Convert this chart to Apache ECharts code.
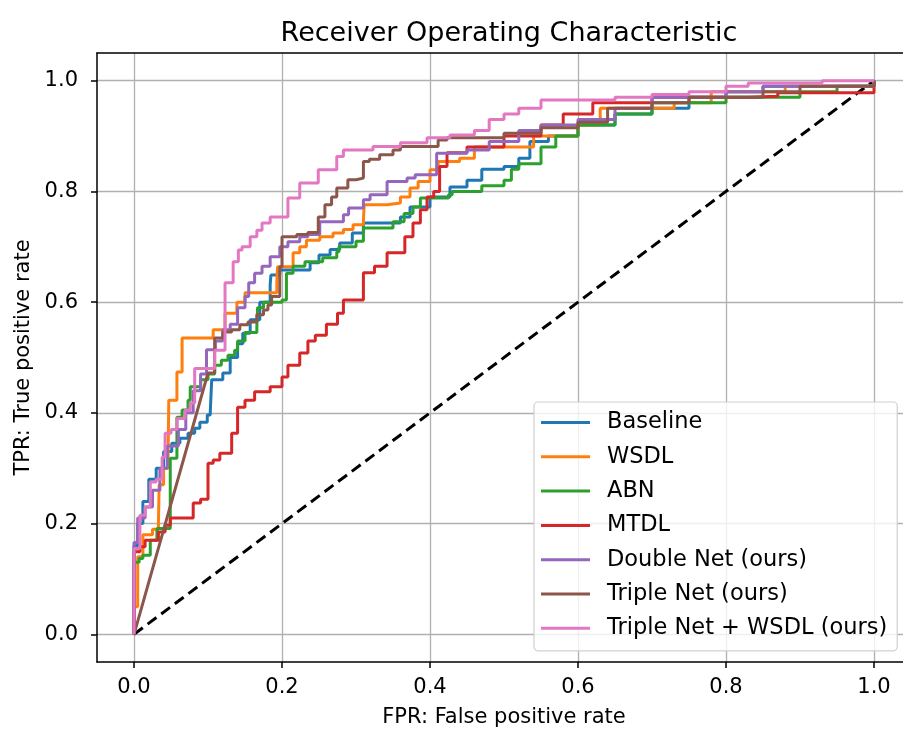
<!DOCTYPE html>
<html><head><meta charset="utf-8">
<script src="https://cdn.jsdelivr.net/npm/echarts@6/dist/echarts.min.js"></script>
<style>html,body{margin:0;padding:0;background:#fff}#c{width:903px;height:732px}</style>
</head><body><div id="c"></div>
<script>
const titleText = 'Receiver Operating Characteristic';
const xName = 'FPR: False positive rate';
const yName = 'TPR: True positive rate';
const seriesNames = ['Baseline','WSDL','ABN','MTDL','Double Net (ours)','Triple Net (ours)','Triple Net + WSDL (ours)'];
const colors = ['#1f77b4','#ff7f0e','#2ca02c','#d62728','#9467bd','#8c564b','#e377c2'];
const tickValues = [0, 0.2, 0.4, 0.6, 0.8, 1.0];

// step points: [fpr where TPR jumps, TPR after the jump]
const baseline = [[0,0],[0,0.16],[0.005,0.2],[0.012,0.24],[0.02,0.28],[0.03,0.3],[0.04,0.33],[0.051,0.345],[0.062,0.354],[0.073,0.363],[0.082,0.372],[0.089,0.383],[0.099,0.396],[0.103,0.40],[0.105,0.46],[0.12,0.472],[0.13,0.5],[0.14,0.525],[0.147,0.544],[0.157,0.568],[0.17,0.6],[0.184,0.631],[0.185,0.649],[0.197,0.658],[0.238,0.671],[0.25,0.685],[0.265,0.695],[0.278,0.707],[0.295,0.725],[0.31,0.743],[0.36,0.754],[0.373,0.772],[0.40,0.79],[0.427,0.808],[0.45,0.82],[0.47,0.84],[0.5,0.845],[0.52,0.86],[0.535,0.89],[0.56,0.9],[0.6,0.92],[0.65,0.94],[0.7,0.95],[0.75,0.97],[0.8,0.98],[0.85,0.99],[1,1]];
const wsdl = [[0,0],[0,0.05],[0.005,0.14],[0.012,0.18],[0.025,0.19],[0.033,0.2],[0.034,0.27],[0.04,0.3],[0.046,0.32],[0.047,0.423],[0.058,0.474],[0.065,0.535],[0.107,0.55],[0.123,0.58],[0.139,0.6],[0.15,0.617],[0.193,0.635],[0.194,0.664],[0.215,0.689],[0.224,0.7],[0.233,0.712],[0.251,0.718],[0.269,0.725],[0.283,0.731],[0.296,0.74],[0.31,0.745],[0.311,0.776],[0.342,0.779],[0.36,0.79],[0.373,0.806],[0.384,0.818],[0.4,0.839],[0.411,0.854],[0.44,0.86],[0.46,0.88],[0.54,0.9],[0.6,0.92],[0.63,0.95],[0.73,0.96],[0.78,0.98],[0.88,0.99],[1,1]];
const abn = [[0,0],[0,0.13],[0.007,0.137],[0.012,0.143],[0.022,0.17],[0.031,0.191],[0.049,0.318],[0.058,0.392],[0.065,0.405],[0.073,0.423],[0.076,0.447],[0.09,0.46],[0.1,0.47],[0.109,0.486],[0.118,0.495],[0.127,0.504],[0.136,0.513],[0.14,0.53],[0.15,0.545],[0.166,0.556],[0.167,0.59],[0.175,0.6],[0.2,0.604],[0.206,0.652],[0.215,0.665],[0.231,0.673],[0.255,0.68],[0.274,0.691],[0.277,0.7],[0.3,0.71],[0.31,0.734],[0.35,0.745],[0.365,0.76],[0.377,0.772],[0.387,0.788],[0.425,0.794],[0.43,0.8],[0.47,0.81],[0.5,0.82],[0.51,0.84],[0.52,0.85],[0.55,0.88],[0.57,0.9],[0.6,0.92],[0.65,0.94],[0.7,0.96],[0.8,0.97],[0.9,0.98],[0.95,0.99],[1,1]];
const mtdl = [[0,0],[0,0.149],[0.008,0.158],[0.015,0.17],[0.033,0.185],[0.042,0.197],[0.049,0.21],[0.08,0.237],[0.09,0.244],[0.1,0.309],[0.107,0.315],[0.116,0.327],[0.132,0.363],[0.14,0.41],[0.15,0.423],[0.163,0.438],[0.184,0.447],[0.2,0.465],[0.208,0.486],[0.224,0.508],[0.235,0.53],[0.245,0.54],[0.26,0.56],[0.275,0.58],[0.283,0.604],[0.31,0.653],[0.325,0.665],[0.342,0.689],[0.366,0.718],[0.377,0.743],[0.387,0.767],[0.396,0.79],[0.405,0.8],[0.413,0.845],[0.423,0.87],[0.45,0.88],[0.5,0.9],[0.55,0.92],[0.58,0.94],[0.62,0.96],[0.7,0.97],[0.83,0.972],[0.87,0.978],[1,1]];
const doubleNet = [[0,0],[0,0.166],[0.005,0.21],[0.015,0.23],[0.025,0.26],[0.035,0.3],[0.045,0.34],[0.06,0.37],[0.07,0.4],[0.08,0.44],[0.09,0.47],[0.098,0.514],[0.11,0.53],[0.12,0.55],[0.13,0.56],[0.14,0.59],[0.15,0.61],[0.155,0.635],[0.163,0.652],[0.173,0.665],[0.184,0.682],[0.197,0.7],[0.208,0.709],[0.224,0.718],[0.235,0.722],[0.251,0.745],[0.283,0.758],[0.29,0.77],[0.31,0.785],[0.319,0.794],[0.342,0.818],[0.369,0.824],[0.38,0.83],[0.409,0.869],[0.45,0.875],[0.48,0.89],[0.52,0.91],[0.55,0.92],[0.6,0.93],[0.65,0.95],[0.7,0.97],[0.8,0.98],[0.85,0.99],[1,1]];
const tripleStart = [0, 0];
const tripleNet = [[0.1,0.472],[0.109,0.535],[0.12,0.546],[0.132,0.55],[0.143,0.559],[0.154,0.564],[0.166,0.577],[0.175,0.586],[0.181,0.595],[0.186,0.61],[0.197,0.664],[0.2,0.718],[0.22,0.722],[0.235,0.726],[0.249,0.754],[0.258,0.776],[0.267,0.79],[0.274,0.806],[0.289,0.821],[0.3,0.824],[0.31,0.854],[0.318,0.858],[0.332,0.866],[0.35,0.875],[0.36,0.881],[0.411,0.893],[0.423,0.897],[0.5,0.905],[0.55,0.915],[0.6,0.925],[0.64,0.95],[0.7,0.96],[0.75,0.97],[0.85,0.98],[0.9,0.99],[1,1]];
const tripleWsdl = [[0,0],[0,0.155],[0.008,0.215],[0.015,0.23],[0.022,0.275],[0.03,0.28],[0.038,0.32],[0.042,0.363],[0.05,0.37],[0.058,0.39],[0.069,0.405],[0.076,0.418],[0.082,0.48],[0.109,0.513],[0.123,0.635],[0.134,0.673],[0.141,0.694],[0.146,0.7],[0.157,0.718],[0.166,0.73],[0.173,0.743],[0.184,0.754],[0.208,0.788],[0.224,0.815],[0.249,0.839],[0.274,0.863],[0.283,0.875],[0.323,0.881],[0.36,0.888],[0.396,0.897],[0.427,0.902],[0.46,0.91],[0.48,0.93],[0.5,0.94],[0.52,0.95],[0.55,0.965],[0.65,0.97],[0.7,0.975],[0.75,0.98],[0.8,0.99],[0.83,0.996],[0.93,1.0],[1,1]];
const chance = [[0,0],[1,1]];

function stepCorners(pts) {
  const out = [pts[0]];
  for (let i = 1; i < pts.length; i++) {
    const x0 = pts[i-1][0], y0 = pts[i-1][1], x = pts[i][0], y = pts[i][1];
    if (x !== x0) out.push([x, y0]);
    out.push([x, y]);
  }
  return out;
}

const curves = [
  stepCorners(baseline),
  stepCorners(wsdl),
  stepCorners(abn),
  stepCorners(mtdl),
  stepCorners(doubleNet),
  [tripleStart].concat(stepCorners(tripleNet)),
  stepCorners(tripleWsdl)
];

const FONT = 'DejaVu Sans';
const chart = echarts.init(document.getElementById('c'), null, {renderer: 'canvas'});
const axisCommon = {type: 'value', min: -0.05, max: 1.05};
const series = [{
  type: 'line', data: chance, symbol: 'none', silent: true,
  lineStyle: {color: '#000', width: 3, type: [11, 6]}, z: 1
}];
curves.forEach((d, i) => series.push({
  name: seriesNames[i], type: 'line', data: d, symbol: 'none',
  lineStyle: {color: colors[i], width: 3}, itemStyle: {color: colors[i]}, z: 2 + i
}));

chart.setOption({
  animation: false,
  backgroundColor: '#fff',
  title: {
    text: titleText, left: 504, top: 15, textAlign: 'center',
    textStyle: {fontFamily: FONT, fontSize: 27, fontWeight: 'normal', color: '#000'}
  },
  grid: {left: 97, top: 53, width: 814, height: 609, containLabel: false, outerBoundsMode: 'none'},
  xAxis: [
    Object.assign({}, axisCommon, {
      position: 'bottom',
      name: xName, nameLocation: 'middle', nameGap: 45,
      nameTextStyle: {fontFamily: FONT, fontSize: 21, color: '#000'},
      axisLine: {onZero: false, lineStyle: {color: '#000', width: 1.5}},
      axisTick: {show: true, inside: false, length: 6, customValues: tickValues, lineStyle: {color: '#000', width: 1.5}},
      axisLabel: {customValues: tickValues, formatter: v => v.toFixed(1), fontFamily: FONT, fontSize: 21, color: '#000', margin: 15},
      splitLine: {show: true, lineStyle: {color: '#b0b0b0', width: 1.3}}
    }),
    Object.assign({}, axisCommon, {
      position: 'top',
      axisLine: {onZero: false, lineStyle: {color: '#000', width: 1.5}},
      axisTick: {show: false}, axisLabel: {show: false}, splitLine: {show: false}
    })
  ],
  yAxis: [
    Object.assign({}, axisCommon, {
      position: 'left',
      name: yName, nameLocation: 'middle', nameGap: 62, nameRotate: 90,
      nameTextStyle: {fontFamily: FONT, fontSize: 21, color: '#000'},
      axisLine: {onZero: false, lineStyle: {color: '#000', width: 1.5}},
      axisTick: {show: true, inside: false, length: 6, customValues: tickValues, lineStyle: {color: '#000', width: 1.5}},
      axisLabel: {customValues: tickValues, formatter: v => v.toFixed(1), fontFamily: FONT, fontSize: 21, color: '#000', margin: 19},
      splitLine: {show: true, lineStyle: {color: '#b0b0b0', width: 1.3}}
    }),
    Object.assign({}, axisCommon, {
      position: 'right',
      axisLine: {onZero: false, lineStyle: {color: '#000', width: 1.5}},
      axisTick: {show: false}, axisLabel: {show: false}, splitLine: {show: false}
    })
  ],
  legend: {
    orient: 'vertical', left: 534, top: 402,
    padding: [9, 10, 11, 7], itemGap: 11.3, itemWidth: 49, itemHeight: 3, icon: 'rect',
    backgroundColor: 'rgba(255,255,255,0.8)', borderColor: '#d0d0d0', borderWidth: 1.2, borderRadius: 4,
    textStyle: {fontFamily: FONT, fontSize: 22.5, color: '#000', padding: [0, 0, 0, 12]},
    data: seriesNames
  },
  series: series
});
</script>
</body></html>
